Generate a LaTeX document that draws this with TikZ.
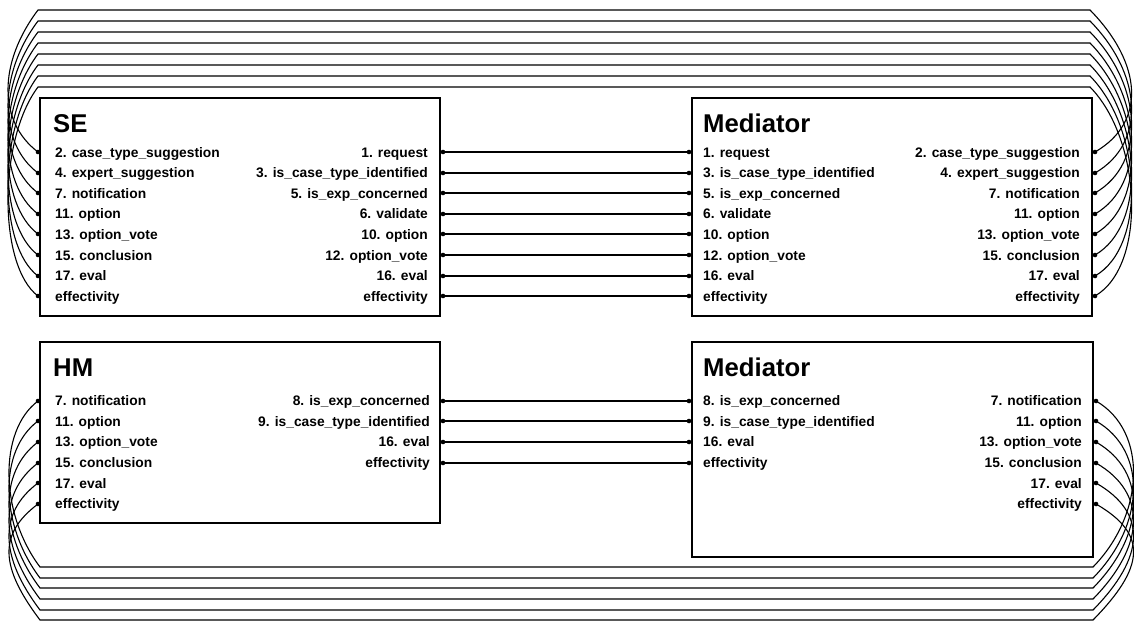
\documentclass[tikz,border=0pt]{standalone}
\usepackage{fontspec}
\setmainfont{Liberation Sans}
\begin{document}
\begin{tikzpicture}[x=1pt,y=1pt,
		box/.style={draw=black,line width=2.6pt},
		ttl/.style={font=\bfseries\fontsize{25.7}{30}\selectfont,inner sep=0pt},
		lbl/.style={font=\bfseries\fontsize{13.8}{16}\selectfont,inner sep=0pt},
		wire/.style={draw=black,line width=1.1pt}]
				\useasboundingbox (0,0) rectangle (1134,-621);
				% boxes
				\draw [box] (40,-98) rectangle (440,-316);
				\draw [box] (692,-98) rectangle (1092,-316);
				\draw [box] (40,-342) rectangle (440,-523);
				\draw [box] (692,-342) rectangle (1093,-557);
				% titles
				\node [ttl,anchor=base west] (seT) at (53,-132) {SE};
				\node [ttl,anchor=base west] (meT) at (703,-132) {Mediator};
				\node [ttl,anchor=base west] (hmT) at (53,-376) {HM};
				\node [ttl,anchor=base west] (mbT) at (703,-376) {Mediator};
				% SE labels
				\node [lbl,anchor=base west] (seA1) at (55,-157) {2. case\_type\_suggestion};
				\node [lbl,anchor=base west] (seA2) at (55,-177) {4. expert\_suggestion};
				\node [lbl,anchor=base west] (seA3) at (55,-198) {7. notification};
				\node [lbl,anchor=base west] (seA4) at (55,-218) {11. option};
				\node [lbl,anchor=base west] (seA5) at (55,-239) {13. option\_vote};
				\node [lbl,anchor=base west] (seA6) at (55,-260) {15. conclusion};
				\node [lbl,anchor=base west] (seA7) at (55,-280) {17. eval};
				\node [lbl,anchor=base west] (seA8) at (55,-301) {effectivity};
				\node [lbl,anchor=base east] (seB1) at (428,-157) {1. request};
				\node [lbl,anchor=base east] (seB2) at (428,-177) {3. is\_case\_type\_identified};
				\node [lbl,anchor=base east] (seB3) at (428,-198) {5. is\_exp\_concerned};
				\node [lbl,anchor=base east] (seB4) at (428,-218) {6. validate};
				\node [lbl,anchor=base east] (seB5) at (428,-239) {10. option};
				\node [lbl,anchor=base east] (seB6) at (428,-260) {12. option\_vote};
				\node [lbl,anchor=base east] (seB7) at (428,-280) {16. eval};
				\node [lbl,anchor=base east] (seB8) at (428,-301) {effectivity};
				% Mediator (top) labels
				\node [lbl,anchor=base west] (meA1) at (703,-157) {1. request};
				\node [lbl,anchor=base west] (meA2) at (703,-177) {3. is\_case\_type\_identified};
				\node [lbl,anchor=base west] (meA3) at (703,-198) {5. is\_exp\_concerned};
				\node [lbl,anchor=base west] (meA4) at (703,-218) {6. validate};
				\node [lbl,anchor=base west] (meA5) at (703,-239) {10. option};
				\node [lbl,anchor=base west] (meA6) at (703,-260) {12. option\_vote};
				\node [lbl,anchor=base west] (meA7) at (703,-280) {16. eval};
				\node [lbl,anchor=base west] (meA8) at (703,-301) {effectivity};
				\node [lbl,anchor=base east] (meB1) at (1080,-157) {2. case\_type\_suggestion};
				\node [lbl,anchor=base east] (meB2) at (1080,-177) {4. expert\_suggestion};
				\node [lbl,anchor=base east] (meB3) at (1080,-198) {7. notification};
				\node [lbl,anchor=base east] (meB4) at (1080,-218) {11. option};
				\node [lbl,anchor=base east] (meB5) at (1080,-239) {13. option\_vote};
				\node [lbl,anchor=base east] (meB6) at (1080,-260) {15. conclusion};
				\node [lbl,anchor=base east] (meB7) at (1080,-280) {17. eval};
				\node [lbl,anchor=base east] (meB8) at (1080,-301) {effectivity};
				% HM labels
				\node [lbl,anchor=base west] (hmA1) at (55,-405) {7. notification};
				\node [lbl,anchor=base west] (hmA2) at (55,-426) {11. option};
				\node [lbl,anchor=base west] (hmA3) at (55,-446) {13. option\_vote};
				\node [lbl,anchor=base west] (hmA4) at (55,-467) {15. conclusion};
				\node [lbl,anchor=base west] (hmA5) at (55,-488) {17. eval};
				\node [lbl,anchor=base west] (hmA6) at (55,-508) {effectivity};
				\node [lbl,anchor=base east] (hmB1) at (430,-405) {8. is\_exp\_concerned};
				\node [lbl,anchor=base east] (hmB2) at (430,-426) {9. is\_case\_type\_identified};
				\node [lbl,anchor=base east] (hmB3) at (430,-446) {16. eval};
				\node [lbl,anchor=base east] (hmB4) at (430,-467) {effectivity};
				% Mediator (bottom) labels
				\node [lbl,anchor=base west] (mbA1) at (703,-405) {8. is\_exp\_concerned};
				\node [lbl,anchor=base west] (mbA2) at (703,-426) {9. is\_case\_type\_identified};
				\node [lbl,anchor=base west] (mbA3) at (703,-446) {16. eval};
				\node [lbl,anchor=base west] (mbA4) at (703,-467) {effectivity};
				\node [lbl,anchor=base east] (mbB1) at (1082,-405) {7. notification};
				\node [lbl,anchor=base east] (mbB2) at (1082,-426) {11. option};
				\node [lbl,anchor=base east] (mbB3) at (1082,-446) {13. option\_vote};
				\node [lbl,anchor=base east] (mbB4) at (1082,-467) {15. conclusion};
				\node [lbl,anchor=base east] (mbB5) at (1082,-488) {17. eval};
				\node [lbl,anchor=base east] (mbB6) at (1082,-508) {effectivity};
				% ports
				\coordinate (seL1) at (38,-152); \coordinate (seR1) at (443,-152);
				\coordinate (seL2) at (38,-173); \coordinate (seR2) at (443,-173);
				\coordinate (seL3) at (38,-193); \coordinate (seR3) at (443,-193);
				\coordinate (seL4) at (38,-214); \coordinate (seR4) at (443,-214);
				\coordinate (seL5) at (38,-234); \coordinate (seR5) at (443,-234);
				\coordinate (seL6) at (38,-255); \coordinate (seR6) at (443,-255);
				\coordinate (seL7) at (38,-276); \coordinate (seR7) at (443,-276);
				\coordinate (seL8) at (38,-296); \coordinate (seR8) at (443,-296);
				\coordinate (meL1) at (689,-152); \coordinate (meR1) at (1095,-152);
				\coordinate (meL2) at (689,-173); \coordinate (meR2) at (1095,-173);
				\coordinate (meL3) at (689,-193); \coordinate (meR3) at (1095,-193);
				\coordinate (meL4) at (689,-214); \coordinate (meR4) at (1095,-214);
				\coordinate (meL5) at (689,-234); \coordinate (meR5) at (1095,-234);
				\coordinate (meL6) at (689,-255); \coordinate (meR6) at (1095,-255);
				\coordinate (meL7) at (689,-276); \coordinate (meR7) at (1095,-276);
				\coordinate (meL8) at (689,-296); \coordinate (meR8) at (1095,-296);
				\coordinate (hmL1) at (38,-401); \coordinate (mbR1) at (1096,-401);
				\coordinate (hmL2) at (38,-421); \coordinate (mbR2) at (1096,-421);
				\coordinate (hmL3) at (38,-442); \coordinate (mbR3) at (1096,-442);
				\coordinate (hmL4) at (38,-463); \coordinate (mbR4) at (1096,-463);
				\coordinate (hmL5) at (38,-483); \coordinate (mbR5) at (1096,-483);
				\coordinate (hmL6) at (38,-504); \coordinate (mbR6) at (1096,-504);
				\coordinate (hmR1) at (443,-401); \coordinate (mbL1) at (689,-401);
				\coordinate (hmR2) at (443,-421); \coordinate (mbL2) at (689,-421);
				\coordinate (hmR3) at (443,-442); \coordinate (mbL3) at (689,-442);
				\coordinate (hmR4) at (443,-463); \coordinate (mbL4) at (689,-463);
				% bends of the long wires
				\coordinate (tl1) at (38,-10); \coordinate (tr1) at (1090,-10);
				\coordinate (tl2) at (38,-21); \coordinate (tr2) at (1090,-21);
				\coordinate (tl3) at (38,-32); \coordinate (tr3) at (1090,-32);
				\coordinate (tl4) at (38,-43); \coordinate (tr4) at (1090,-43);
				\coordinate (tl5) at (38,-54); \coordinate (tr5) at (1090,-54);
				\coordinate (tl6) at (38,-65); \coordinate (tr6) at (1090,-65);
				\coordinate (tl7) at (38,-76); \coordinate (tr7) at (1090,-76);
				\coordinate (tl8) at (38,-87); \coordinate (tr8) at (1090,-87);
				\coordinate (bl1) at (40,-567); \coordinate (br1) at (1093,-567);
				\coordinate (bl2) at (40,-578); \coordinate (br2) at (1093,-578);
				\coordinate (bl3) at (40,-588); \coordinate (br3) at (1093,-588);
				\coordinate (bl4) at (40,-599); \coordinate (br4) at (1093,-599);
				\coordinate (bl5) at (40,-610); \coordinate (br5) at (1093,-610);
				\coordinate (bl6) at (40,-620); \coordinate (br6) at (1093,-620);
				% SE -- Mediator, straight
				\draw [wire] (seR1) -- (meL1);
				\draw [wire] (seR2) -- (meL2);
				\draw [wire] (seR3) -- (meL3);
				\draw [wire] (seR4) -- (meL4);
				\draw [wire] (seR5) -- (meL5);
				\draw [wire] (seR6) -- (meL6);
				\draw [wire] (seR7) -- (meL7);
				\draw [wire] (seR8) -- (meL8);
				% SE -- Mediator, over the top
				\draw [wire] (seL1) .. controls +(-40,30) and +(-40,-53) .. (tl1) -- (tr1) .. controls +(52,-53) and +(52,30) .. (meR1);
				\draw [wire] (seL2) .. controls +(-40,30) and +(-40,-53) .. (tl2) -- (tr2) .. controls +(52,-53) and +(52,30) .. (meR2);
				\draw [wire] (seL3) .. controls +(-40,30) and +(-40,-53) .. (tl3) -- (tr3) .. controls +(52,-53) and +(52,30) .. (meR3);
				\draw [wire] (seL4) .. controls +(-40,30) and +(-40,-53) .. (tl4) -- (tr4) .. controls +(52,-53) and +(52,30) .. (meR4);
				\draw [wire] (seL5) .. controls +(-40,30) and +(-40,-53) .. (tl5) -- (tr5) .. controls +(52,-53) and +(52,30) .. (meR5);
				\draw [wire] (seL6) .. controls +(-40,30) and +(-40,-53) .. (tl6) -- (tr6) .. controls +(52,-53) and +(52,30) .. (meR6);
				\draw [wire] (seL7) .. controls +(-40,30) and +(-40,-53) .. (tl7) -- (tr7) .. controls +(52,-53) and +(52,30) .. (meR7);
				\draw [wire] (seL8) .. controls +(-40,30) and +(-40,-53) .. (tl8) -- (tr8) .. controls +(52,-53) and +(52,30) .. (meR8);
				% HM -- Mediator, straight
				\draw [wire] (hmR1) -- (mbL1);
				\draw [wire] (hmR2) -- (mbL2);
				\draw [wire] (hmR3) -- (mbL3);
				\draw [wire] (hmR4) -- (mbL4);
				% HM -- Mediator, under the bottom
				\draw [wire] (hmL1) .. controls +(-40,-30) and +(-40,53) .. (bl1) -- (br1) .. controls +(52,53) and +(52,-30) .. (mbR1);
				\draw [wire] (hmL2) .. controls +(-40,-30) and +(-40,53) .. (bl2) -- (br2) .. controls +(52,53) and +(52,-30) .. (mbR2);
				\draw [wire] (hmL3) .. controls +(-40,-30) and +(-40,53) .. (bl3) -- (br3) .. controls +(52,53) and +(52,-30) .. (mbR3);
				\draw [wire] (hmL4) .. controls +(-40,-30) and +(-40,53) .. (bl4) -- (br4) .. controls +(52,53) and +(52,-30) .. (mbR4);
				\draw [wire] (hmL5) .. controls +(-40,-30) and +(-40,53) .. (bl5) -- (br5) .. controls +(52,53) and +(52,-30) .. (mbR5);
				\draw [wire] (hmL6) .. controls +(-40,-30) and +(-40,53) .. (bl6) -- (br6) .. controls +(52,53) and +(52,-30) .. (mbR6);
				% port dots
				\foreach \p in {seL1,seL2,seL3,seL4,seL5,seL6,seL7,seL8,seR1,seR2,seR3,seR4,seR5,seR6,seR7,seR8,
					meL1,meL2,meL3,meL4,meL5,meL6,meL7,meL8,meR1,meR2,meR3,meR4,meR5,meR6,meR7,meR8,
					hmL1,hmL2,hmL3,hmL4,hmL5,hmL6,hmR1,hmR2,hmR3,hmR4,
					mbL1,mbL2,mbL3,mbL4,mbR1,mbR2,mbR3,mbR4,mbR5,mbR6}
					\fill [black] (\p) circle (2.3);
			\end{tikzpicture}
\end{document}
